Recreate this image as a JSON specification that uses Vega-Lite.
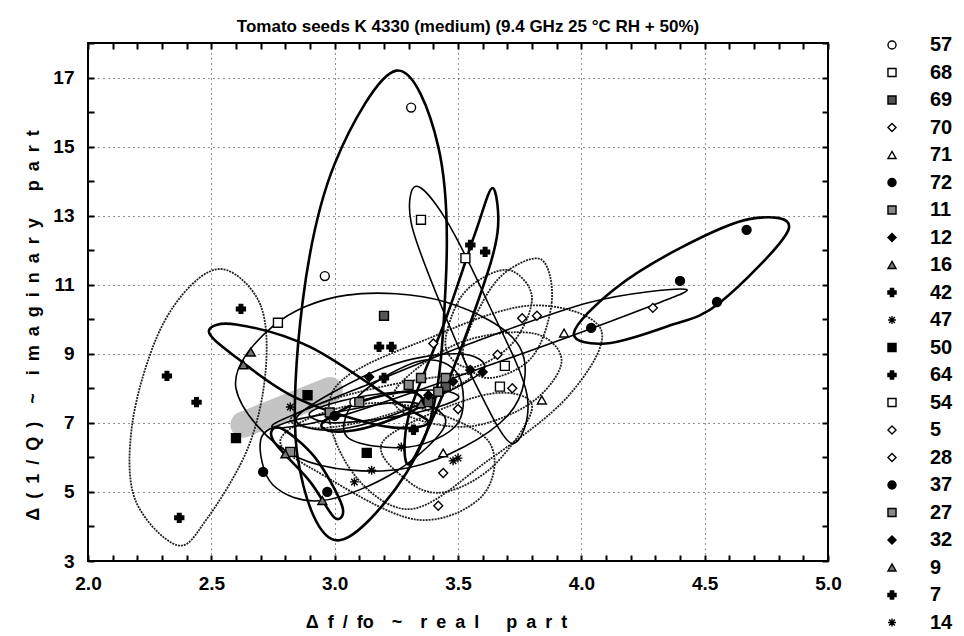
{
"$schema":"https://vega.github.io/schema/vega-lite/v6.json",
"width":740,"height":518,
"autosize":{"type":"none"},
"padding":{"left":88,"top":43,"right":136,"bottom":75},
"background":"white",
"title":{"text":"Tomato seeds K 4330 (medium) (9.4 GHz 25 °C RH + 50%)","font":"Liberation Sans","fontSize":17,"fontWeight":"bold","color":"black","offset":-2,"dx":10,"anchor":"middle"},
"config":{"view":{"stroke":"black","strokeWidth":2}},
"datasets":{
"pts":[
{"s":"57","x":3.31,"y":16.13},{"s":"57","x":2.96,"y":11.25},{"s":"57","x":3.08,"y":7.6},
{"s":"68","x":3.35,"y":12.88},{"s":"68","x":3.69,"y":8.65},
{"s":"69","x":3.2,"y":10.1},{"s":"69","x":3.45,"y":8.05},{"s":"69","x":3.38,"y":7.6},
{"s":"70","x":3.76,"y":10.03},{"s":"70","x":3.66,"y":8.97},{"s":"70","x":3.44,"y":5.55},{"s":"70","x":3.42,"y":4.6},
{"s":"71","x":3.93,"y":9.6},{"s":"71","x":3.84,"y":7.66},{"s":"71","x":3.44,"y":6.13},
{"s":"72","x":4.67,"y":12.59},{"s":"72","x":4.4,"y":11.11},{"s":"72","x":4.55,"y":10.5},{"s":"72","x":4.04,"y":9.75},
{"s":"11","x":2.98,"y":7.3},{"s":"11","x":3.3,"y":8.1},{"s":"11","x":3.45,"y":8.3},{"s":"11","x":3.1,"y":7.6},
{"s":"12","x":3.55,"y":8.53},{"s":"12","x":3.6,"y":8.47},{"s":"12","x":3.38,"y":7.8},
{"s":"16","x":2.66,"y":9.05},{"s":"16","x":2.63,"y":8.68},{"s":"16","x":3.35,"y":7.55},
{"s":"42","x":3.55,"y":12.15},{"s":"42","x":3.61,"y":11.95},{"s":"42","x":3.18,"y":9.2},{"s":"42","x":3.23,"y":9.2},
{"s":"47","x":3.15,"y":5.63},{"s":"47","x":3.08,"y":5.29},{"s":"47","x":3.5,"y":5.98},{"s":"47","x":2.82,"y":7.46},
{"s":"50","x":2.6,"y":6.56},{"s":"50","x":2.89,"y":7.8},{"s":"50","x":3.13,"y":6.13},
{"s":"64","x":2.32,"y":8.36},{"s":"64","x":2.44,"y":7.6},{"s":"64","x":2.37,"y":4.25},{"s":"64","x":2.62,"y":10.3},
{"s":"54","x":3.53,"y":11.77},{"s":"54","x":2.77,"y":9.9},{"s":"54","x":3.67,"y":8.05},
{"s":"5","x":4.29,"y":10.33},{"s":"5","x":3.82,"y":10.1},{"s":"5","x":3.5,"y":7.4},
{"s":"28","x":3.4,"y":9.3},{"s":"28","x":3.72,"y":8.0},
{"s":"37","x":2.71,"y":5.58},{"s":"37","x":2.97,"y":5.0},{"s":"37","x":3.0,"y":7.2},
{"s":"27","x":2.82,"y":6.16},{"s":"27","x":3.35,"y":8.3},{"s":"27","x":3.42,"y":7.9},
{"s":"32","x":3.14,"y":8.33},{"s":"32","x":3.48,"y":8.2},
{"s":"9","x":2.95,"y":4.75},{"s":"9","x":2.8,"y":6.1},
{"s":"7","x":3.32,"y":6.8},{"s":"7","x":3.2,"y":8.3},
{"s":"14","x":3.48,"y":5.9},{"s":"14","x":3.27,"y":6.3}
],
"ell":[
{"e":"57","i":0,"x":3.25,"y":17.2},{"e":"57","i":1,"x":3.42,"y":15.0},{"e":"57","i":2,"x":3.45,"y":11.0},{"e":"57","i":3,"x":3.36,"y":6.5},{"e":"57","i":4,"x":3.02,"y":3.6},{"e":"57","i":5,"x":2.85,"y":6.0},{"e":"57","i":6,"x":2.87,"y":10.5},{"e":"57","i":7,"x":3.0,"y":14.5},
{"e":"72","i":0,"x":3.97,"y":9.6},{"e":"72","i":1,"x":4.13,"y":10.85},{"e":"72","i":2,"x":4.4,"y":12.06},{"e":"72","i":3,"x":4.68,"y":12.9},{"e":"72","i":4,"x":4.84,"y":12.6},{"e":"72","i":5,"x":4.56,"y":10.47},{"e":"72","i":6,"x":4.35,"y":9.8},{"e":"72","i":7,"x":4.1,"y":9.3},
{"e":"5","i":0,"x":2.75,"y":6.95},{"e":"5","i":1,"x":3.2,"y":8.3},{"e":"5","i":2,"x":3.55,"y":9.3},{"e":"5","i":3,"x":4.04,"y":10.5},{"e":"5","i":4,"x":4.42,"y":10.87},{"e":"5","i":5,"x":4.25,"y":10.3},{"e":"5","i":6,"x":3.6,"y":8.6},{"e":"5","i":7,"x":3.0,"y":7.15},
{"e":"64","i":0,"x":2.56,"y":11.43},{"e":"64","i":1,"x":2.7,"y":10.4},{"e":"64","i":2,"x":2.72,"y":8.5},{"e":"64","i":3,"x":2.65,"y":6.3},{"e":"64","i":4,"x":2.48,"y":4.2},{"e":"64","i":5,"x":2.36,"y":3.46},{"e":"64","i":6,"x":2.19,"y":4.8},{"e":"64","i":7,"x":2.18,"y":7.0},{"e":"64","i":8,"x":2.28,"y":9.5},{"e":"64","i":9,"x":2.42,"y":11.0},
{"e":"16","i":0,"x":2.49,"y":9.65},{"e":"16","i":1,"x":2.6,"y":9.85},{"e":"16","i":2,"x":2.9,"y":9.2},{"e":"16","i":3,"x":3.25,"y":7.6},{"e":"16","i":4,"x":3.38,"y":7.0},{"e":"16","i":5,"x":3.2,"y":6.9},{"e":"16","i":6,"x":2.85,"y":7.7},{"e":"16","i":7,"x":2.6,"y":8.9},
{"e":"50","i":0,"x":2.6,"y":8.0},{"e":"50","i":1,"x":2.75,"y":9.8},{"e":"50","i":2,"x":3.05,"y":10.7},{"e":"50","i":3,"x":3.45,"y":10.5},{"e":"50","i":4,"x":3.75,"y":9.2},{"e":"50","i":5,"x":3.7,"y":7.2},{"e":"50","i":6,"x":3.3,"y":5.7},{"e":"50","i":7,"x":2.85,"y":6.0},
{"e":"42","i":0,"x":3.64,"y":13.8},{"e":"42","i":1,"x":3.66,"y":12.5},{"e":"42","i":2,"x":3.58,"y":10.5},{"e":"42","i":3,"x":3.42,"y":7.5},{"e":"42","i":4,"x":3.3,"y":5.8},{"e":"42","i":5,"x":3.3,"y":7.2},{"e":"42","i":6,"x":3.45,"y":10.0},{"e":"42","i":7,"x":3.57,"y":12.5},
{"e":"68","i":0,"x":3.33,"y":13.85},{"e":"68","i":1,"x":3.45,"y":12.9},{"e":"68","i":2,"x":3.62,"y":10.5},{"e":"68","i":3,"x":3.78,"y":7.8},{"e":"68","i":4,"x":3.72,"y":6.4},{"e":"68","i":5,"x":3.58,"y":8.0},{"e":"68","i":6,"x":3.42,"y":10.6},{"e":"68","i":7,"x":3.31,"y":12.8},
{"e":"71","i":0,"x":3.0,"y":8.0},{"e":"71","i":1,"x":3.4,"y":9.5},{"e":"71","i":2,"x":3.8,"y":10.4},{"e":"71","i":3,"x":4.08,"y":9.7},{"e":"71","i":4,"x":3.95,"y":7.8},{"e":"71","i":5,"x":3.62,"y":5.9},{"e":"71","i":6,"x":3.3,"y":4.5},{"e":"71","i":7,"x":3.05,"y":5.8},
{"e":"70","i":0,"x":3.84,"y":11.72},{"e":"70","i":1,"x":3.88,"y":10.5},{"e":"70","i":2,"x":3.8,"y":8.9},{"e":"70","i":3,"x":3.62,"y":8.3},{"e":"70","i":4,"x":3.52,"y":9.0},{"e":"70","i":5,"x":3.6,"y":10.5},{"e":"70","i":6,"x":3.7,"y":11.4},
{"e":"28","i":0,"x":3.72,"y":11.4},{"e":"28","i":1,"x":3.8,"y":10.6},{"e":"28","i":2,"x":3.72,"y":9.3},{"e":"28","i":3,"x":3.55,"y":8.6},{"e":"28","i":4,"x":3.45,"y":9.2},{"e":"28","i":5,"x":3.5,"y":10.5},{"e":"28","i":6,"x":3.6,"y":11.2},
{"e":"37","i":0,"x":2.7,"y":6.5},{"e":"37","i":1,"x":2.75,"y":5.2},{"e":"37","i":2,"x":2.95,"y":4.75},{"e":"37","i":3,"x":3.25,"y":5.6},{"e":"37","i":4,"x":3.45,"y":7.0},{"e":"37","i":5,"x":3.3,"y":7.6},{"e":"37","i":6,"x":3.0,"y":7.3},{"e":"37","i":7,"x":2.8,"y":7.0},
{"e":"47","i":0,"x":2.78,"y":6.5},{"e":"47","i":1,"x":2.95,"y":5.5},{"e":"47","i":2,"x":3.33,"y":4.2},{"e":"47","i":3,"x":3.6,"y":4.9},{"e":"47","i":4,"x":3.62,"y":6.5},{"e":"47","i":5,"x":3.3,"y":7.5},{"e":"47","i":6,"x":3.0,"y":7.4},
{"e":"9","i":0,"x":3.0,"y":4.25},{"e":"9","i":1,"x":2.9,"y":5.3},{"e":"9","i":2,"x":2.75,"y":6.5},{"e":"9","i":3,"x":2.78,"y":6.85},{"e":"9","i":4,"x":2.92,"y":6.0},{"e":"9","i":5,"x":3.03,"y":4.6},
{"e":"27","i":0,"x":2.82,"y":7.1},{"e":"27","i":1,"x":3.0,"y":7.7},{"e":"27","i":2,"x":3.3,"y":8.2},{"e":"27","i":3,"x":3.55,"y":8.4},{"e":"27","i":4,"x":3.45,"y":7.9},{"e":"27","i":5,"x":3.2,"y":7.2},{"e":"27","i":6,"x":2.95,"y":6.85},
{"e":"11","i":0,"x":2.63,"y":6.95},{"e":"11","i":1,"x":2.98,"y":7.95},
{"e":"54","i":0,"x":3.25,"y":8.0},{"e":"54","i":1,"x":3.5,"y":9.3},{"e":"54","i":2,"x":3.8,"y":9.6},{"e":"54","i":3,"x":3.92,"y":8.8},{"e":"54","i":4,"x":3.8,"y":7.6},{"e":"54","i":5,"x":3.55,"y":6.9},{"e":"54","i":6,"x":3.3,"y":7.2},
{"e":"14","i":0,"x":3.2,"y":6.5},{"e":"14","i":1,"x":3.3,"y":5.3},{"e":"14","i":2,"x":3.45,"y":5.0},{"e":"14","i":3,"x":3.65,"y":5.8},{"e":"14","i":4,"x":3.8,"y":7.5},{"e":"14","i":5,"x":3.6,"y":7.8},
{"e":"12","i":0,"x":2.9,"y":7.3},{"e":"12","i":1,"x":3.1,"y":7.75},{"e":"12","i":2,"x":3.4,"y":7.95},{"e":"12","i":3,"x":3.5,"y":7.7},{"e":"12","i":4,"x":3.3,"y":7.25},{"e":"12","i":5,"x":3.0,"y":7.0},
{"e":"69","i":0,"x":2.85,"y":7.2},{"e":"69","i":1,"x":3.2,"y":8.6},{"e":"69","i":2,"x":3.5,"y":9.0},{"e":"69","i":3,"x":3.6,"y":8.5},{"e":"69","i":4,"x":3.3,"y":7.4},{"e":"69","i":5,"x":3.0,"y":6.8},
{"e":"32","i":0,"x":2.95,"y":7.0},{"e":"32","i":1,"x":3.1,"y":7.6},{"e":"32","i":2,"x":3.3,"y":7.9},{"e":"32","i":3,"x":3.35,"y":7.5},{"e":"32","i":4,"x":3.15,"y":6.9},{"e":"32","i":5,"x":3.0,"y":6.75},
{"e":"7","i":0,"x":3.05,"y":6.6},{"e":"7","i":1,"x":3.1,"y":7.8},{"e":"7","i":2,"x":3.35,"y":8.8},{"e":"7","i":3,"x":3.5,"y":8.4},{"e":"7","i":4,"x":3.5,"y":7.0},{"e":"7","i":5,"x":3.3,"y":6.3}
]},
"layer":[
{"encoding":{
  "x":{"field":"x","type":"quantitative","scale":{"domain":[2,5],"nice":false,"zero":false},
   "axis":{"values":[2,2.1,2.2,2.3,2.4,2.5,2.6,2.7,2.8,2.9,3,3.1,3.2,3.3,3.4,3.5,3.6,3.7,3.8,3.9,4,4.1,4.2,4.3,4.4,4.5,4.6,4.7,4.8,4.9,5],
    "labelExpr":"round(datum.value*10) % 5 == 0 ? format(datum.value,'.1f') : ''",
    "labelOverlap":false,"labelFlush":false,"domain":false,"offset":-6,
    "ticks":true,"tickSize":6,"tickColor":"black","tickWidth":2,"tickOpacity":1,
    "grid":true,"gridColor":"#222","gridDash":[1,4],"gridWidth":1,
    "gridOpacity":{"condition":{"test":"round(datum.value*10) % 5 == 0 && datum.value > 2.01 && datum.value < 4.99","value":1},"value":0},
    "labelFont":"Liberation Sans","labelFontSize":19,"labelFontWeight":"bold","labelColor":"black","labelPadding":13,
    "title":"Δ\u2002f\u2002/\u2002fo\u2002\u2002~\u2002\u2002r\u2002e\u2002a\u2002l\u2003\u2002p\u2002a\u2002r\u2002t","titleFont":"Liberation Sans","titleFontSize":18,"titleFontWeight":"bold","titleColor":"black",
    "titleX":348,"titleY":67,"titleAnchor":"middle","titleAlign":"center","titleBaseline":"middle"}},
  "y":{"field":"y","type":"quantitative","scale":{"domain":[3,18],"nice":false,"zero":false},
   "axis":{"values":[3,4,5,6,7,8,9,10,11,12,13,14,15,16,17,18],
    "labelExpr":"datum.value % 2 == 1 ? datum.value : ''",
    "labelOverlap":false,"labelFlush":false,"domain":false,"offset":-6,
    "ticks":true,"tickSize":6,"tickColor":"black","tickWidth":2,"tickOpacity":1,
    "grid":true,"gridColor":"#222","gridDash":[1,4],"gridWidth":1,
    "gridOpacity":{"condition":{"test":"datum.value % 2 == 1 && datum.value > 3","value":1},"value":0},
    "labelFont":"Liberation Sans","labelFontSize":19,"labelFontWeight":"bold","labelColor":"black","labelPadding":14,
    "title":"Δ\u2002(\u20021\u2002/\u2002Q\u2002)\u2002\u2002~\u2002\u2002i\u2002m\u2002a\u2002g\u2002i\u2002n\u2002a\u2002r\u2002y\u2003\u2002p\u2002a\u2002r\u2002t","titleFont":"Liberation Sans","titleFontSize":18,"titleFontWeight":"bold","titleColor":"black",
    "titleX":-61,"titleY":282,"titleAngle":-90,"titleAlign":"center","titleBaseline":"middle"}}},
 "layer":[
{"data":{"name":"ell"},"transform":[{"filter":{"field":"e","equal":"11"}}],
 "mark":{"type":"line","color":"#c4c4c4","strokeWidth":26,"strokeCap":"round"},
 "encoding":{"order":{"field":"i","type":"quantitative"}}},
{"data":{"name":"ell"},"transform":[{"filter":{"field":"e","oneOf":["64","71","70","28","47","27","54","14"]}}],
 "mark":{"type":"line","interpolate":"cardinal-closed","color":"#222","strokeWidth":1.8,"strokeDash":[2,1]},
 "encoding":{"detail":{"field":"e"},"order":{"field":"i","type":"quantitative"}}},
{"data":{"name":"ell"},"transform":[{"filter":{"field":"e","oneOf":["5","50","68","37","12","69","7"]}}],
 "mark":{"type":"line","interpolate":"cardinal-closed","color":"black","strokeWidth":1.6},
 "encoding":{"detail":{"field":"e"},"order":{"field":"i","type":"quantitative"}}},
{"data":{"name":"ell"},"transform":[{"filter":{"field":"e","oneOf":["57","72","16","42","9","32"]}}],
 "mark":{"type":"line","interpolate":"cardinal-closed","color":"black","strokeWidth":2.6},
 "encoding":{"detail":{"field":"e"},"order":{"field":"i","type":"quantitative"}}},
{"data":{"name":"pts"},
 "mark":{"type":"point","filled":true,"strokeWidth":1.4,"size":80,"opacity":1},
 "encoding":{
  "shape":{"field":"s","type":"nominal","scale":{"domain":["57","68","69","70","71","72","11","12","16","42","47","50","64","54","5","28","37","27","32","9","7","14"],
    "range":["circle","square","square","diamond","triangle-up","circle","square","diamond","triangle-up","cross","M-1,0H1M0,-1V1M-0.72,-0.72L0.72,0.72M-0.72,0.72L0.72,-0.72","square","cross","square","diamond","diamond","circle","square","diamond","triangle-up","cross","M-1,0H1M0,-1V1M-0.72,-0.72L0.72,0.72M-0.72,0.72L0.72,-0.72"]},
   "legend":{"title":null,"orient":"none","legendX":794,"legendY":-8,"padding":0,"rowPadding":7.5,"labelOffset":28,"symbolSize":65,"symbolStrokeWidth":1.4,"labelFont":"Liberation Sans","labelFontSize":20,"labelFontWeight":"bold","labelColor":"black"}},
  "fill":{"field":"s","type":"nominal","scale":{"domain":["57","68","69","70","71","72","11","12","16","42","47","50","64","54","5","28","37","27","32","9","7","14"],
    "range":["white","white","#555","white","white","black","#888","black","#777","black","black","black","black","white","white","white","black","#888","black","#777","black","black"]},
   "legend":{"title":null,"orient":"none","legendX":794,"legendY":-8,"padding":0,"rowPadding":7.5,"labelOffset":28,"symbolSize":65,"symbolStrokeWidth":1.4,"labelFont":"Liberation Sans","labelFontSize":20,"labelFontWeight":"bold","labelColor":"black"}},
  "stroke":{"field":"s","type":"nominal","scale":{"domain":["57","68","69","70","71","72","11","12","16","42","47","50","64","54","5","28","37","27","32","9","7","14"],
    "range":["black","black","black","black","black","black","black","black","black","black","black","black","black","black","black","black","black","black","black","black","black","black"]},
   "legend":{"title":null,"orient":"none","legendX":794,"legendY":-8,"padding":0,"rowPadding":7.5,"labelOffset":28,"symbolSize":65,"symbolStrokeWidth":1.4,"labelFont":"Liberation Sans","labelFontSize":20,"labelFontWeight":"bold","labelColor":"black"}}}}
]},
{"data":{"name":"pts"},"mark":{"type":"point","opacity":0},
 "encoding":{
  "x":{"field":"x","type":"quantitative","scale":{"domain":[2,5],"nice":false,"zero":false},
   "axis":{"orient":"top","values":[2,2.1,2.2,2.3,2.4,2.5,2.6,2.7,2.8,2.9,3,3.1,3.2,3.3,3.4,3.5,3.6,3.7,3.8,3.9,4,4.1,4.2,4.3,4.4,4.5,4.6,4.7,4.8,4.9,5],"labels":false,"title":null,"grid":false,"domain":false,"offset":-6,"ticks":true,"tickSize":6,"tickColor":"black","tickWidth":2,"tickOpacity":1}},
  "y":{"field":"y","type":"quantitative","scale":{"domain":[3,18],"nice":false,"zero":false},
   "axis":{"orient":"right","values":[3,4,5,6,7,8,9,10,11,12,13,14,15,16,17,18],"labels":false,"title":null,"grid":false,"domain":false,"offset":-6,"ticks":true,"tickSize":6,"tickColor":"black","tickWidth":2,"tickOpacity":1}}}}
],
"resolve":{"axis":{"x":"independent","y":"independent"}}
}
